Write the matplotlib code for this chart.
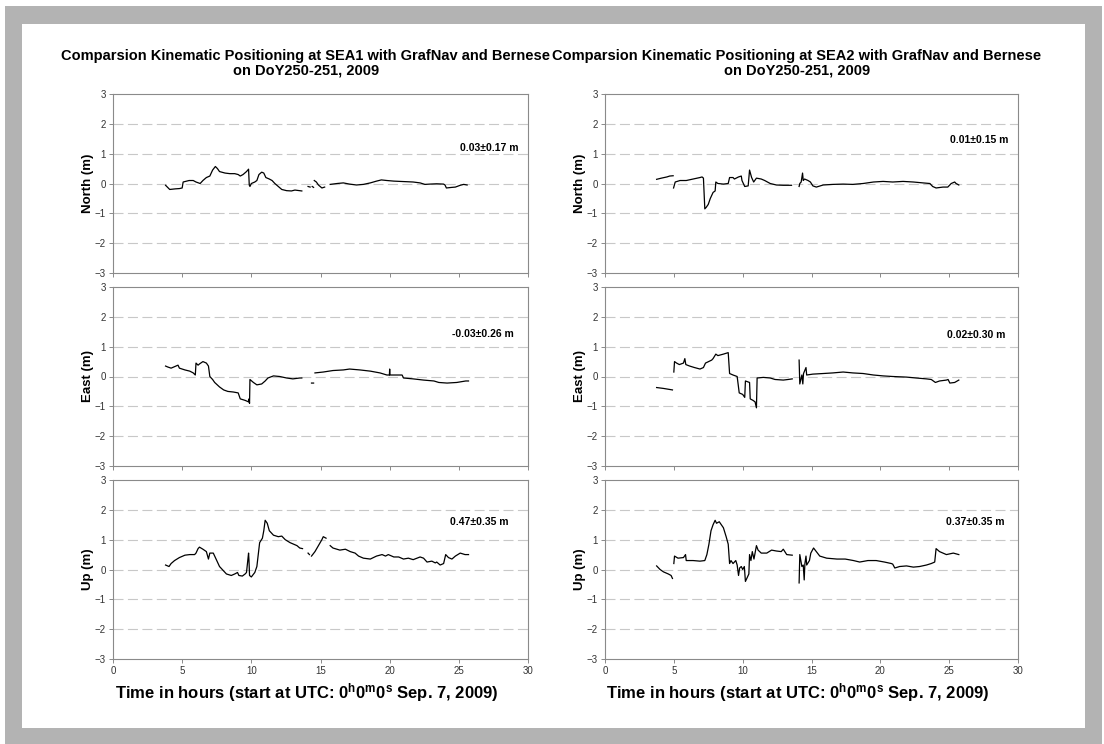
import numpy as np
import matplotlib
matplotlib.use("Agg")
import matplotlib.pyplot as plt
from matplotlib.patches import Rectangle

plt.rcParams['font.family'] = ['Liberation Sans', 'DejaVu Sans']
plt.rcParams['mathtext.fontset'] = 'custom'
plt.rcParams['mathtext.rm'] = 'Liberation Sans'
plt.rcParams['mathtext.bf'] = 'Liberation Sans:bold'

nan = np.nan

# SEA1 ---------------------------------------------------------------
sea1_north_t = [3.8, 4.1, 4.5, 4.8, 5.0, 5.07, 5.5, 5.8, 6.0, 6.3, 6.5, 6.75, 7.0, 7.2, 7.4, 7.55,
                7.7, 8.1, 8.45, 8.8, 9.05, 9.2, 9.4, 9.65, 9.8, 9.85, 9.9, 10.0, 10.25, 10.4, 10.55,
                10.75, 10.9, 11.05, 11.3, 11.5, 11.7, 11.95, 12.2, 12.55, 12.9, 13.15, 13.65,
                13.9, 14.1, 14.25, 14.3, 14.4, 14.5, 14.52,
                14.55, 14.7, 14.85, 15.1, 15.3, 15.5,
                15.7, 16.2, 16.65, 17.1, 17.6, 18.1, 18.6, 19.05, 19.4, 19.8, 20.3, 20.75, 21.25,
                21.7, 22.2, 22.55, 22.9, 23.4, 23.9, 24.0, 24.1, 24.5, 24.75, 25.1, 25.35, 25.6]
sea1_north_v = [-0.06, -0.2, -0.18, -0.17, -0.15, 0.05, 0.1, 0.1, 0.05, 0.0, 0.1, 0.2, 0.25, 0.45, 0.57, 0.5,
                0.4, 0.35, 0.33, 0.33, 0.3, 0.25, 0.3, 0.4, 0.48, -0.05, -0.1, 0.0, 0.05, 0.1, 0.3,
                0.38, 0.35, 0.2, 0.15, 0.1, 0.0, -0.1, -0.2, -0.24, -0.25, -0.22, -0.25,
                nan, -0.1, -0.12, nan, -0.1, -0.13, nan,
                0.1, 0.05, -0.05, -0.15, -0.12, nan,
                -0.03, 0.0, 0.02, -0.02, -0.05, -0.03, 0.02, 0.08, 0.12, 0.1, 0.08, 0.07, 0.06,
                0.05, 0.02, -0.03, -0.02, -0.01, -0.02, -0.05, -0.15, -0.13, -0.12, -0.06, -0.03, -0.05]

sea1_east_t = [3.8, 3.95, 4.2, 4.45, 4.7, 4.8, 5.2, 5.55, 5.8, 5.95, 6.0, 6.15, 6.25, 6.5, 6.75, 6.9,
               7.0, 7.2, 7.35, 7.7, 8.0, 8.3, 8.7, 9.05, 9.2, 9.55, 9.8, 9.83, 9.87, 9.9, 10.15, 10.4,
               10.75, 11.0, 11.2, 11.6, 12.05, 12.55, 13.0, 13.5, 13.65,
               14.0, 14.35, 14.5, 14.55,
               14.6, 15.2, 15.9, 16.65, 17.1, 17.85, 18.6, 19.3, 19.8, 19.98, 20.0, 20.02, 20.5,
               20.9, 21.0, 21.7, 22.45, 23.2, 23.55, 24.15, 24.85, 25.5, 25.7]
sea1_east_v = [0.35, 0.32, 0.28, 0.33, 0.38, 0.28, 0.22, 0.18, 0.12, 0.05, 0.45, 0.38, 0.42, 0.5, 0.45, 0.35,
               0.0, -0.1, -0.2, -0.35, -0.45, -0.5, -0.52, -0.55, -0.75, -0.8, -0.85, -0.75, -0.9, -0.1, -0.2, -0.28,
               -0.25, -0.15, -0.05, 0.02, 0.0, -0.05, -0.08, -0.05, -0.05,
               nan, -0.22, -0.22, nan,
               0.12, 0.15, 0.2, 0.22, 0.25, 0.22, 0.18, 0.12, 0.05, 0.05, 0.25, 0.05, 0.05,
               0.05, -0.05, -0.08, -0.12, -0.15, -0.2, -0.22, -0.2, -0.15, -0.15]

sea1_up_t = [3.8, 4.05, 4.2, 4.45, 4.8, 5.2, 5.55, 5.9, 6.0, 6.15, 6.25, 6.5, 6.75, 6.9, 7.0, 7.25,
             7.35, 7.5, 7.7, 8.0, 8.2, 8.55, 8.8, 9.0, 9.1, 9.35, 9.55, 9.65, 9.8, 9.83, 9.87, 10.0,
             10.25, 10.4, 10.5, 10.6, 10.8, 10.9, 11.0, 11.15, 11.3, 11.6, 11.95, 12.2, 12.45,
             12.8, 13.3, 13.5, 13.7,
             13.9, 14.1, 14.2, 14.25,
             14.35, 14.6, 14.85, 15.1, 15.2, 15.4, 15.55,
             15.7, 15.9, 16.4, 16.8, 17.15, 17.5, 17.75, 18.1, 18.6, 19.05, 19.45, 19.7, 19.9,
             20.3, 20.65, 21.0, 21.35, 21.7, 22.2, 22.45, 22.7, 23.05, 23.3, 23.4, 23.65, 23.9,
             24.05, 24.25, 24.5, 24.75, 25.1, 25.45, 25.7]
sea1_up_v = [0.15, 0.1, 0.2, 0.3, 0.4, 0.48, 0.5, 0.5, 0.55, 0.7, 0.75, 0.68, 0.6, 0.35, 0.55, 0.55,
             0.45, 0.3, 0.1, -0.05, -0.15, -0.2, -0.15, -0.1, -0.2, -0.22, -0.15, -0.1, 0.55, 0.3, -0.2, -0.25,
             -0.1, 0.1, 0.5, 0.9, 1.05, 1.3, 1.65, 1.55, 1.3, 1.15, 1.1, 1.12, 1.0,
             0.9, 0.8, 0.72, 0.7,
             nan, 0.55, 0.5, nan,
             0.45, 0.6, 0.8, 1.0, 1.1, 1.05, nan,
             0.8, 0.72, 0.65, 0.68, 0.6, 0.55, 0.45, 0.38, 0.35, 0.45, 0.5, 0.45, 0.5,
             0.42, 0.42, 0.35, 0.38, 0.33, 0.42, 0.38, 0.25, 0.28, 0.22, 0.25, 0.15, 0.2,
             0.5, 0.4, 0.35, 0.45, 0.55, 0.5, 0.5]

# SEA2 ---------------------------------------------------------------
sea2_north_t = [3.75, 4.1, 4.5, 4.7, 4.95, 4.97,
                4.98, 5.1, 5.45, 5.9, 6.4, 6.9, 7.05, 7.15, 7.25, 7.35, 7.5, 7.65, 7.85, 8.0, 8.05,
                8.2, 8.6, 8.95, 9.05, 9.3, 9.4, 9.7, 9.9, 9.95, 10.15, 10.4, 10.5, 10.65, 10.8, 11.0,
                11.35, 11.6, 12.0, 12.45, 12.95, 13.55, 13.8,
                14.1, 14.15, 14.25, 14.35, 14.4, 14.5, 14.75, 14.92, 15.1, 15.35, 15.85, 16.55,
                17.3, 18.0, 18.75, 19.5, 20.2, 20.9, 21.65, 22.4, 23.1, 23.6, 23.8, 24.05, 24.55,
                24.9, 25.15, 25.4, 25.5, 25.7]
sea2_north_v = [0.14, 0.18, 0.22, 0.25, 0.26, nan,
                -0.15, 0.05, 0.1, 0.1, 0.15, 0.2, 0.22, 0.18, -0.85, -0.8, -0.7, -0.5, -0.3, -0.25, 0.05,
                0.0, -0.02, 0.0, 0.2, 0.2, 0.15, 0.22, 0.25, 0.1, -0.1, -0.08, 0.45, 0.2, 0.05, 0.18,
                0.15, 0.1, 0.0, -0.05, -0.06, -0.06, nan,
                -0.1, 0.0, 0.05, 0.35, 0.1, 0.15, 0.1, 0.05, -0.08, -0.12, -0.05, -0.03,
                -0.02, -0.03, 0.0, 0.05, 0.07, 0.05, 0.07, 0.05, 0.02, 0.0, -0.1, -0.15, -0.12,
                -0.12, 0.0, 0.05, 0.0, -0.05]

sea2_east_t = [3.75, 4.25, 4.9, 4.95,
               5.0, 5.05, 5.2, 5.4, 5.7, 5.8, 5.87, 6.15, 6.5, 6.9, 7.15, 7.3, 7.75, 7.85, 8.05, 8.2,
               8.6, 8.95, 9.05, 9.3, 9.6, 9.75, 10.0, 10.15, 10.2, 10.5, 10.55, 10.75, 10.9, 11.0,
               11.05, 11.5, 12.0, 12.35, 12.95, 13.3, 13.6, 13.8,
               14.1, 14.15, 14.3, 14.37, 14.42, 14.6, 14.65, 15.1, 15.85, 16.55, 17.3, 18.0, 18.75,
               19.5, 20.2, 20.9, 21.9, 22.6, 23.35, 23.7, 24.0, 24.3, 24.8, 24.92, 25.05, 25.4, 25.7]
sea2_east_v = [-0.37, -0.4, -0.45, nan,
               0.15, 0.5, 0.45, 0.4, 0.45, 0.6, 0.4, 0.35, 0.3, 0.25, 0.3, 0.45, 0.55, 0.6, 0.75, 0.7,
               0.75, 0.8, 0.1, 0.05, 0.0, -0.55, -0.6, -0.7, -0.15, -0.2, -0.75, -0.8, -0.85, -1.05,
               -0.05, -0.03, -0.05, -0.1, -0.12, -0.1, -0.08, nan,
               0.55, -0.25, 0.05, -0.25, 0.1, 0.3, 0.05, 0.08, 0.1, 0.12, 0.15, 0.12, 0.1,
               0.05, 0.02, 0.0, -0.02, -0.05, -0.08, -0.1, -0.2, -0.15, -0.12, -0.1, -0.22, -0.2, -0.12]

sea2_up_t = [3.75, 4.0, 4.25, 4.6, 4.8, 4.9, 4.95,
             5.0, 5.05, 5.3, 5.7, 5.85, 5.9, 6.4, 6.9, 7.25, 7.4, 7.55, 7.7, 7.85, 8.0, 8.1, 8.3,
             8.6, 8.8, 8.95, 9.05, 9.15, 9.3, 9.5, 9.6, 9.7, 9.78, 9.9, 10.0, 10.12, 10.2, 10.3,
             10.45, 10.5, 10.6, 10.7, 10.82, 11.0, 11.12, 11.35, 11.75, 12.1, 12.45, 12.8, 12.95,
             13.2, 13.6, 13.8,
             14.1, 14.15, 14.3, 14.4, 14.47, 14.52, 14.6, 14.65, 14.85, 14.95, 15.15, 15.35,
             15.6, 16.1, 16.85, 17.45, 18.05, 18.5, 19.1, 19.7, 20.3, 20.8, 20.9, 21.05, 21.4,
             21.9, 22.4, 22.85, 23.35, 23.7, 23.95, 24.05, 24.3, 24.8, 25.3, 25.7]
sea2_up_v = [0.12, 0.0, -0.08, -0.15, -0.2, -0.3, nan,
             0.2, 0.45, 0.38, 0.4, 0.5, 0.3, 0.3, 0.28, 0.3, 0.5, 0.85, 1.3, 1.5, 1.65, 1.55, 1.6,
             1.4, 1.1, 0.85, 0.2, 0.3, 0.2, 0.3, 0.15, -0.2, 0.05, 0.1, 0.0, 0.1, -0.4, -0.3,
             -0.15, 0.5, 0.3, 0.6, 0.35, 0.8, 0.65, 0.55, 0.55, 0.65, 0.62, 0.6, 0.68,
             0.5, 0.48, nan,
             -0.45, 0.5, 0.1, 0.15, -0.35, 0.2, 0.45, 0.15, 0.3, 0.55, 0.72, 0.6,
             0.45, 0.38, 0.35, 0.35, 0.3, 0.25, 0.3, 0.3, 0.25, 0.2, 0.18, 0.05, 0.1,
             0.12, 0.08, 0.1, 0.15, 0.2, 0.25, 0.7, 0.6, 0.5, 0.55, 0.5]

stats_sea1 = ["0.03\u00b10.17 m", "-0.03\u00b10.26 m", "0.47\u00b10.35 m"]
stats_sea2 = ["0.01\u00b10.15 m", "0.02\u00b10.30 m", "0.37\u00b10.35 m"]
ylabels = ["North (m)", "East (m)", "Up (m)"]
titles = ["Comparsion Kinematic Positioning at SEA1 with GrafNav and Bernese\non DoY250-251, 2009",
          "Comparsion Kinematic Positioning at SEA2 with GrafNav and Bernese\non DoY250-251, 2009"]
xlabel = r"Time in hours (start at UTC: $\mathbf{0^{h}0^{m}0^{s}}$ Sep. 7, 2009)"

columns = [
    [(sea1_north_t, sea1_north_v), (sea1_east_t, sea1_east_v), (sea1_up_t, sea1_up_v)],
    [(sea2_north_t, sea2_north_v), (sea2_east_t, sea2_east_v), (sea2_up_t, sea2_up_v)],
]
stats = [stats_sea1, stats_sea2]
# where the stats label sits in each panel (x end, y centre)
stat_pos = [[(29.3, 1.2), (29.0, 1.42), (28.6, 1.58)],
            [(29.3, 1.46), (29.05, 1.4), (29.0, 1.6)]]

W, H = 1104, 744
fig = plt.figure(figsize=(W / 100, H / 100), dpi=100)
fig.patch.set_facecolor("white")
fig.add_artist(Rectangle((5 / W, 0), 1097 / W, 1 - 6 / H, transform=fig.transFigure,
                         facecolor="#b3b3b3", edgecolor="none", zorder=-2))
fig.add_artist(Rectangle((22 / W, 1 - 728 / H), 1063 / W, 704 / H, transform=fig.transFigure,
                         facecolor="white", edgecolor="none", zorder=-1))

col_x = [113, 605]
col_w = [415, 413]
row_top = [94, 287, 480]
row_h = 179

for c in range(2):
    for r in range(3):
        left = col_x[c] / W
        bottom = 1 - (row_top[r] + row_h) / H
        ax = fig.add_axes([left, bottom, col_w[c] / W, row_h / H])
        ax.set_facecolor("none")
        t, v = columns[c][r]
        ax.plot(t, v, color="black", lw=0.9)
        ax.set_xlim(0, 30)
        ax.set_ylim(-3, 3)
        ax.set_yticks(range(-3, 4))
        ax.set_xticks(range(0, 31, 5))
        for g in [-2, -1, 0, 1, 2]:
            ax.axhline(g, color="#c8c8c8", lw=0.8, ls=(0, (9, 4)), zorder=0)
        for s in ax.spines.values():
            s.set_color("#8a8a8a")
            s.set_linewidth(0.8)
        ax.tick_params(length=3, width=0.7, color="#8a8a8a", labelsize=7, labelcolor="#333333", pad=2)
        if r < 2:
            ax.set_xticklabels([])
        else:
            ax.set_xlabel(xlabel, fontsize=12, fontweight="bold")
            ax.xaxis.set_label_coords(0.468, -0.125)
        ax.set_ylabel(ylabels[r], fontsize=9.5, fontweight="bold", labelpad=1)
        sx, sy = stat_pos[c][r]
        ax.text(sx, sy, stats[c][r], fontsize=7.5, fontweight="bold", ha="right", va="center")
        if r == 0:
            ax.set_title(titles[c], fontsize=10.5, fontweight="bold", pad=14,
                         linespacing=1.05, x=0.465)

fig.savefig("out.png", dpi=100)
